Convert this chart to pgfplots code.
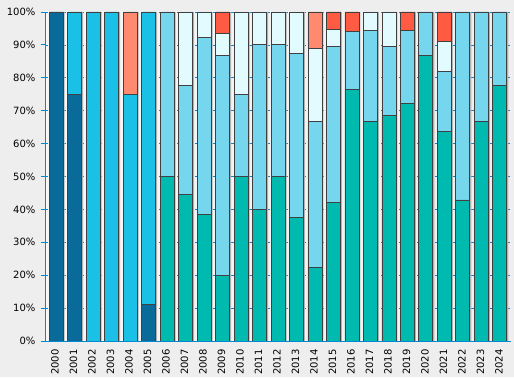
\documentclass[border=0pt]{standalone}
\usepackage{pgfplots}
\pgfplotsset{compat=1.18}
\usepackage{pgfplotstable}
\usepackage{fontspec}
\setmainfont{DejaVu Sans}
\definecolor{figbg}{HTML}{EEEEEE}
\definecolor{axblue}{HTML}{0088D0}
\definecolor{cA}{HTML}{0A6B9A}
\definecolor{cB}{HTML}{1AC0E6}
\definecolor{cC}{HTML}{00BAB0}
\definecolor{cD}{HTML}{76D6EE}
\definecolor{cE}{HTML}{E2FBFF}
\definecolor{cF}{HTML}{FF8A70}
\definecolor{cG}{HTML}{FF5A42}
\definecolor{edge}{HTML}{404040}
\pgfplotstableread{
x A B C D E F G
0 100 0 0 0 0 0 0
1 75 25 0 0 0 0 0
2 0 100 0 0 0 0 0
3 0 100 0 0 0 0 0
4 0 75 0 0 0 25 0
5 11.11 88.89 0 0 0 0 0
6 0 0 50 50 0 0 0
7 0 0 44.44 33.33 22.23 0 0
8 0 0 38.46 53.85 7.69 0 0
9 0 0 20 66.67 6.66 0 6.67
10 0 0 50 25 25 0 0
11 0 0 40 50 10 0 0
12 0 0 50 40 10 0 0
13 0 0 37.5 50 12.5 0 0
14 0 0 22.22 44.45 22.22 11.11 0
15 0 0 42.11 47.37 5.26 0 5.26
16 0 0 76.47 17.65 0 0 5.88
17 0 0 66.67 27.77 5.56 0 0
18 0 0 68.42 21.05 10.53 0 0
19 0 0 72.22 22.22 0 0 5.56
20 0 0 86.67 13.33 0 0 0
21 0 0 63.64 18.18 9.09 0 9.09
22 0 0 42.86 57.14 0 0 0
23 0 0 66.67 33.33 0 0 0
24 0 0 77.78 22.22 0 0 0
}\datatable
\begin{document}
\begin{tikzpicture}[x=1pt,y=1pt]
\fill[figbg] (0,0) rectangle (514,377);
\pgfplotsset{
  common/.style={
    at={(45pt,36pt)}, anchor=south west,
    scale only axis, width=466pt, height=329pt,
    xmin=-0.6, xmax=24.6, ymin=0, ymax=100,
  }
}
\begin{axis}[common,
  axis background/.style={left color=white!97!black, right color=white!94!black},
  axis x line*=bottom, axis y line*=left,
  axis line style={axblue, -, line width=0.8pt},
  tick align=outside,
  major tick length=4pt, minor tick length=4pt,
  tick style={axblue, line width=0.8pt},
  ytick={0,10,...,100},
  yticklabel={\pgfmathprintnumber{\tick}\%},
  xtick={0,...,24},
  xticklabels={2000,2001,2002,2003,2004,2005,2006,2007,2008,2009,2010,2011,2012,2013,2014,2015,2016,2017,2018,2019,2020,2021,2022,2023,2024},
  x tick style={draw=none},
  minor xtick={-0.5,0.5,...,24.5},
  minor x tick style={axblue, line width=0.8pt},
  xticklabel style={rotate=90, anchor=east, font=\fontsize{10}{11}\selectfont, yshift=1pt, xshift=-1pt},
  yticklabel style={font=\fontsize{10}{11}\selectfont, xshift=-2pt},
  /pgf/number format/assume math mode=true,
  ymajorgrids, grid style={axblue, dash pattern=on 3pt off 3pt, line width=0.7pt},
]
\addplot[ybar, bar width=14pt, bar shift=1.5pt, fill=black!30, draw=none] table[x=x, y expr=100] {\datatable};
\end{axis}
\begin{axis}[common, hide axis, ybar stacked, bar width=14pt,
  every axis plot/.append style={draw=edge, line width=0.9pt}]
\addplot[fill=cA] table[x=x,y=A] {\datatable};
\addplot[fill=cB] table[x=x,y=B] {\datatable};
\addplot[fill=cC] table[x=x,y=C] {\datatable};
\addplot[fill=cD] table[x=x,y=D] {\datatable};
\addplot[fill=cE] table[x=x,y=E] {\datatable};
\addplot[fill=cF] table[x=x,y=F] {\datatable};
\addplot[fill=cG] table[x=x,y=G] {\datatable};
\end{axis}
\end{tikzpicture}
\end{document}
